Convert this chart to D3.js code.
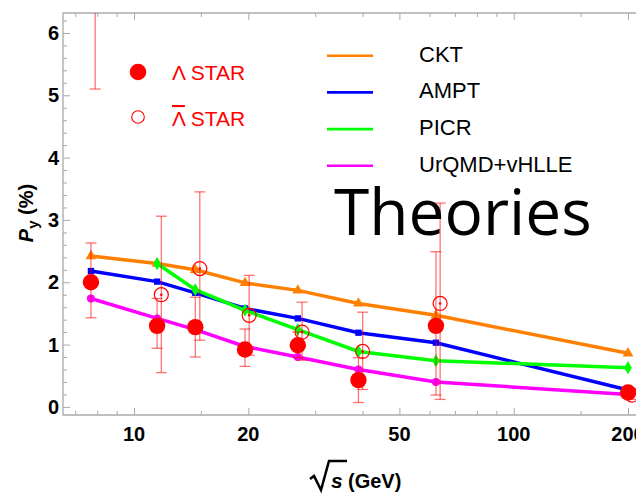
<!DOCTYPE html>
<html>
<head>
<meta charset="utf-8">
<script src="https://cdn.jsdelivr.net/npm/d3@7"></script>
<style>
  body { margin: 0; background: #fff; }
  svg { display: block; font-family: "Liberation Sans", Arial, sans-serif; }
</style>
</head>
<body>
<div id="chart"></div>
<script>
// collision energies (GeV)
var sNN = [7.7, 11.5, 14.5, 19.6, 27, 39, 62.4, 200]
var sNNbar = [7.9, 11.8, 14.9, 20.1, 27.7, 40, 64, 205]

// STAR Lambda
var lam = [2.00, 1.30, 1.28, 0.92, 0.99, 0.43, 1.30, 0.23]
var lamLo = [1.43, 0.94, 0.80, 0.65, 0.79, 0.07, 0.19, 0.18]
var lamHi = [2.63, 1.74, 1.76, 1.25, 1.20, 0.79, 2.49, 0.28]

// STAR anti-Lambda
var alam = [8.7, 1.80, 2.22, 1.47, 1.20, 0.89, 1.66, 0.19]
var alamLo = [5.10, 0.55, 1.07, 0.83, 0.75, 0.28, 0.12, 0.12]
var alamHi = [12.3, 3.06, 3.45, 2.11, 1.68, 1.52, 3.27, 0.27]

// theories
var ckt = [2.42, 2.30, 2.20, 1.99, 1.87, 1.66, 1.47, 0.86]
var ampt = [2.18, 2.01, 1.83, 1.58, 1.42, 1.19, 1.03, 0.27]
var picr = [null, 2.30, 1.88, 1.55, 1.24, 0.89, 0.74, 0.63]
var urqmd = [1.74, 1.42, 1.24, 0.97, 0.80, 0.60, 0.40, 0.20]

var theoryNames = ["CKT", "AMPT", "PICR", "UrQMD+vHLLE"]
var theoryColors = ["#ff8000", "#0000ff", "#00ff00", "#ff00ff"]
var theoryValues = [ckt, ampt, picr, urqmd]
var theorySymbols = [d3.symbolTriangle, d3.symbolSquare, d3.symbolDiamond, d3.symbolCircle]

var xMajor = [10, 20, 50, 100, 200]
var xMinor = [7, 8, 9, 15, 30, 40, 60, 70, 80, 90, 150]
var yMajor = [0, 1, 2, 3, 4, 5, 6]

var width = 636, height = 498
var margin = {top: 13, right: -9, bottom: 83, left: 63}
var axisColor = "#aaaaaa"

var svg = d3.select("#chart")
  .append("svg")
  .attr("width", width)
  .attr("height", height)

var xScale = d3.scaleLog()
  .domain([6.5, 221.7])
  .range([margin.left, width - margin.right])

var yScale = d3.scaleLinear()
  .domain([-0.13, 6.32])
  .range([height - margin.bottom, margin.top])

var yMinor = d3.range(-0.0, 6.4, 0.2).filter(d => Math.abs(d - Math.round(d)) > 0.01)

svg.append("clipPath")
  .attr("id", "plot-clip")
  .append("rect")
  .attr("x", margin.left)
  .attr("y", margin.top)
  .attr("width", width - margin.right - margin.left)
  .attr("height", height - margin.bottom - margin.top)

// frame
var frame = svg.append("g")
  .attr("class", "frame")
  .style("color", axisColor)

// Y axis (ticks inward)
frame.append("g")
  .attr("transform", `translate(${margin.left},0)`)
  .call(d3.axisRight(yScale).tickValues(yMinor).tickSize(4).tickFormat(""))
  .call(g => g.select(".domain").remove())
frame.append("g")
  .attr("transform", `translate(${margin.left},0)`)
  .call(d3.axisRight(yScale).tickValues(yMajor).tickSize(7).tickFormat(""))
  .call(g => g.select(".domain").remove())

// X axis bottom + top mirrored
var xBottom = height - margin.bottom
frame.append("g")
  .attr("transform", `translate(0,${xBottom})`)
  .call(d3.axisTop(xScale).tickValues(xMinor).tickSize(4).tickFormat(""))
  .call(g => g.select(".domain").remove())
frame.append("g")
  .attr("transform", `translate(0,${xBottom})`)
  .call(d3.axisTop(xScale).tickValues(xMajor).tickSize(7).tickFormat(""))
  .call(g => g.select(".domain").remove())
frame.append("g")
  .attr("transform", `translate(0,${margin.top})`)
  .call(d3.axisBottom(xScale).tickValues(xMinor).tickSize(4).tickFormat(""))
  .call(g => g.select(".domain").remove())
frame.append("g")
  .attr("transform", `translate(0,${margin.top})`)
  .call(d3.axisBottom(xScale).tickValues(xMajor).tickSize(7).tickFormat(""))
  .call(g => g.select(".domain").remove())

frame.selectAll("line").attr("stroke", axisColor).attr("stroke-width", 1)

frame.append("path")
  .attr("d", `M${width - margin.right},${margin.top}H${margin.left}V${xBottom}H${width - margin.right}`)
  .attr("fill", "none")
  .attr("stroke", axisColor)
  .attr("stroke-width", 1.3)

// tick labels
svg.append("g")
  .selectAll("text")
  .data(yMajor)
  .enter()
  .append("text")
  .attr("x", margin.left - 4)
  .attr("y", d => yScale(d) + 7)
  .attr("text-anchor", "end")
  .style("font-size", "20px")
  .style("font-weight", "bold")
  .text(d => d)

svg.append("g")
  .selectAll("text")
  .data(xMajor)
  .enter()
  .append("text")
  .attr("x", d => xScale(d))
  .attr("y", xBottom + 26)
  .attr("text-anchor", "middle")
  .style("font-size", "20px")
  .style("font-weight", "bold")
  .text(d => d)

// axis titles
var yTitle = svg.append("text")
  .attr("transform", "translate(33,213) rotate(-90)")
  .attr("text-anchor", "middle")
  .style("font-size", "20px")
  .style("font-weight", "bold")
yTitle.append("tspan").style("font-style", "italic").text("P")
yTitle.append("tspan").attr("dy", 5).style("font-size", "15px").text("y")
yTitle.append("tspan").attr("dy", -5).text(" (%)")

var xTitle = svg.append("g").attr("transform", `translate(310,488)`)
xTitle.append("path")
  .attr("d", "M0,-9 L4,-12 L11,2 L19,-27 H37")
  .attr("fill", "none")
  .attr("stroke", "black")
  .attr("stroke-width", 2.5)
  .attr("stroke-linejoin", "miter")
xTitle.append("text")
  .attr("x", 21)
  .style("font-size", "21px")
  .style("font-weight", "bold")
  .style("font-style", "italic")
  .text("s")
xTitle.append("text")
  .attr("x", 38)
  .style("font-size", "20px")
  .style("font-weight", "bold")
  .text("(GeV)")

// plot content
var plot = svg.append("g").attr("clip-path", "url(#plot-clip)")

// theory lines
theoryValues.forEach((vals, i) => {
  var pts = sNN.map((s, j) => ({s: s, v: vals[j]})).filter(d => d.v != null)
  var line = d3.line()
    .x(d => xScale(d.s))
    .y(d => yScale(d.v))
  plot.append("path")
    .datum(pts)
    .attr("d", line)
    .attr("fill", "none")
    .attr("stroke", theoryColors[i])
    .attr("stroke-width", 3.5)
  plot.selectAll(".sym-" + i)
    .data(pts)
    .enter()
    .append("path")
    .attr("class", "sym-" + i)
    .attr("transform", d => `translate(${xScale(d.s)},${yScale(d.v)})`)
    .attr("d", d3.symbol().type(theorySymbols[i]).size(i == 1 ? 40 : 50))
    .attr("fill", theoryColors[i])
})

// error bars
function errorBars(xs, lo, hi) {
  var g = plot.append("g")
    .attr("stroke", "#ff0000")
    .attr("stroke-opacity", 0.55)
    .attr("stroke-width", 1.3)
  g.selectAll("line.bar")
    .data(xs)
    .enter()
    .append("line")
    .attr("class", "bar")
    .attr("x1", d => xScale(d))
    .attr("x2", d => xScale(d))
    .attr("y1", (d, i) => yScale(lo[i]))
    .attr("y2", (d, i) => yScale(hi[i]))
  g.selectAll("line.lo")
    .data(xs)
    .enter()
    .append("line")
    .attr("class", "lo")
    .attr("x1", d => xScale(d) - 5.5)
    .attr("x2", d => xScale(d) + 5.5)
    .attr("y1", (d, i) => yScale(lo[i]))
    .attr("y2", (d, i) => yScale(lo[i]))
  g.selectAll("line.hi")
    .data(xs)
    .enter()
    .append("line")
    .attr("class", "hi")
    .attr("x1", d => xScale(d) - 5.5)
    .attr("x2", d => xScale(d) + 5.5)
    .attr("y1", (d, i) => yScale(hi[i]))
    .attr("y2", (d, i) => yScale(hi[i]))
}
errorBars(sNN, lamLo, lamHi)
errorBars(sNNbar, alamLo, alamHi)

// STAR Lambda bar (open)
plot.selectAll(".alam")
  .data(sNNbar)
  .enter()
  .append("circle")
  .attr("class", "alam")
  .attr("cx", d => xScale(d))
  .attr("cy", (d, i) => yScale(alam[i]))
  .attr("r", 7)
  .attr("fill", "none")
  .attr("stroke", "#ff0000")
  .attr("stroke-width", 1.2)
plot.selectAll(".alam-dot")
  .data(sNNbar)
  .enter()
  .append("circle")
  .attr("class", "alam-dot")
  .attr("cx", d => xScale(d))
  .attr("cy", (d, i) => yScale(alam[i]))
  .attr("r", 1.3)
  .attr("fill", "#ff0000")

// STAR Lambda (filled)
plot.selectAll(".lam")
  .data(sNN)
  .enter()
  .append("circle")
  .attr("class", "lam")
  .attr("cx", d => xScale(d))
  .attr("cy", (d, i) => yScale(lam[i]))
  .attr("r", 8.2)
  .attr("fill", "#ff0000")

// legend: data
var legend = svg.append("g").attr("class", "legend")
legend.append("circle")
  .attr("cx", 138).attr("cy", 72).attr("r", 8.3)
  .attr("fill", "#ff0000")
legend.append("circle")
  .attr("cx", 138).attr("cy", 117).attr("r", 6.3)
  .attr("fill", "none").attr("stroke", "#ff0000").attr("stroke-width", 1.1)
legend.append("text")
  .attr("x", 172).attr("y", 80)
  .attr("fill", "#ff0000")
  .style("font-size", "21px")
  .text("\u039B STAR")
var lb = legend.append("text")
  .attr("x", 172).attr("y", 126)
  .attr("fill", "#ff0000")
  .style("font-size", "21px")
lb.append("tspan").style("text-decoration", "overline").text("\u039B")
lb.append("tspan").text(" STAR")

// legend: theories
theoryNames.forEach((name, i) => {
  var ly = 55.7 + i * 36.7
  legend.append("line")
    .attr("x1", 327).attr("x2", 373)
    .attr("y1", ly).attr("y2", ly)
    .attr("stroke", theoryColors[i])
    .attr("stroke-width", 2.6)
  legend.append("text")
    .attr("x", 419).attr("y", ly + 6)
    .style("font-size", "22px")
    .text(name)
})

svg.append("text")
  .attr("x", 334).attr("y", 235)
  .style("font-family", "'Open Sans', sans-serif")
  .style("font-size", "64px")
  .text("Theories")
</script>
</body>
</html>
